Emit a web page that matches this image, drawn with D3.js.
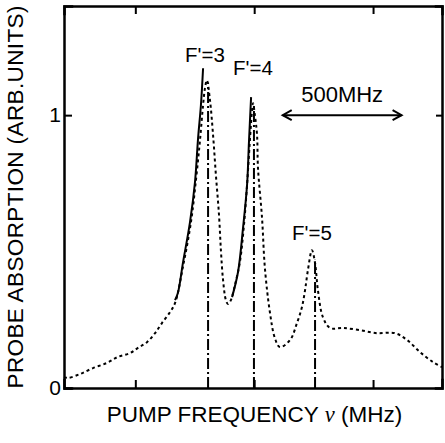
<!DOCTYPE html>
<html>
<head>
<meta charset="utf-8">
<script src="https://cdn.jsdelivr.net/npm/d3@7"></script>
<style>
  body { margin: 0; background: #fff; }
  text { font-family: "Liberation Sans", Arial, sans-serif; fill: #000; }
</style>
</head>
<body>
<script>
// pump frequency (MHz, relative) and probe absorption (arb. units)
var dotFreq = [0, 17, 67, 122, 181, 227, 278, 311, 349, 383, 412, 446, 467, 501, 534, 555, 572, 585, 593, 601,
  614, 627, 639, 652, 660, 669, 681, 690, 702, 719, 740, 757, 770, 782, 791, 795, 803, 812, 816, 833, 845,
  866, 887, 908, 951, 980, 1001, 1014, 1026, 1043, 1056, 1068, 1089, 1119, 1173, 1245, 1316, 1392, 1443,
  1497, 1552, 1590];
var dotAbs = [0.040, 0.037, 0.051, 0.073, 0.092, 0.114, 0.128, 0.147, 0.168, 0.201, 0.238, 0.278, 0.311,
  0.447, 0.608, 0.762, 0.908, 1.037, 1.099, 1.128, 1.055, 0.927, 0.780, 0.634, 0.505, 0.396, 0.322, 0.308,
  0.322, 0.377, 0.462, 0.597, 0.744, 0.908, 1.018, 1.044, 1.000, 0.927, 0.806, 0.623, 0.440, 0.278, 0.183,
  0.150, 0.176, 0.238, 0.297, 0.359, 0.432, 0.505, 0.458, 0.359, 0.260, 0.220, 0.220, 0.212, 0.201, 0.201,
  0.176, 0.132, 0.095, 0.077];

var solid3Freq = [467, 479, 501, 530, 551, 564, 576, 585];
var solid3Abs = [0.322, 0.348, 0.462, 0.608, 0.755, 0.916, 1.037, 1.172];
var solid4Freq = [707, 732, 753, 770, 778, 787];
var solid4Abs = [0.333, 0.425, 0.586, 0.744, 0.901, 1.066];

var lineNames = ["F'=3", "F'=4", "F'=5"];
var lineFreq = [606, 799, 1056];
var lineTop = [1.12, 1.04, 0.47];
var labelFreq = [509, 711, 959];
var labelAbs = [1.194, 1.147, 0.542];

var xTicks = [300, 800, 1300];
var yTicks = [0, 1];
var arrowFreq = [920, 1420];

var margin = {top: 6, right: 3, bottom: 55, left: 64},
    width = 445 - margin.left - margin.right,
    height = 443 - margin.top - margin.bottom;

var svg = d3.select("body").append("svg")
    .attr("width", 445)
    .attr("height", 443)
  .append("g")
    .attr("transform", "translate(" + margin.left + "," + margin.top + ")");

var xScale = d3.scaleLinear().domain([0, 1590]).range([0, width]);
var yScale = d3.scaleLinear().domain([0, 1.4]).range([height, 0]);

var line = d3.line()
    .x(function(d){ return xScale(d[0]); })
    .y(function(d){ return yScale(d[1]); })
    .curve(d3.curveCatmullRom);

var dotted = d3.zip(dotFreq, dotAbs);
svg.append("path")
    .datum(dotted)
    .attr("d", line)
    .attr("fill", "none")
    .attr("stroke", "#000")
    .attr("stroke-width", 2)
    .attr("stroke-dasharray", "3,3");

[d3.zip(solid3Freq, solid3Abs), d3.zip(solid4Freq, solid4Abs)].forEach(function(seg){
  svg.append("path")
      .datum(seg)
      .attr("d", line)
      .attr("fill", "none")
      .attr("stroke", "#000")
      .attr("stroke-width", 2);
});

// dash-dot markers of the hyperfine lines
svg.selectAll(".marker")
    .data(lineFreq)
    .enter().append("line")
    .attr("class", "marker")
    .attr("x1", function(d){ return xScale(d); })
    .attr("x2", function(d){ return xScale(d); })
    .attr("y1", yScale(0))
    .attr("y2", function(d, i){ return yScale(lineTop[i]); })
    .attr("stroke", "#000")
    .attr("stroke-width", 2)
    .attr("stroke-dasharray", "11,3,2,3");

svg.selectAll(".lbl")
    .data(lineNames)
    .enter().append("text")
    .attr("class", "lbl")
    .attr("x", function(d, i){ return xScale(labelFreq[i]); })
    .attr("y", function(d, i){ return yScale(labelAbs[i]); })
    .style("font-size", "20.5px")
    .text(function(d){ return d; });

// 500 MHz scale arrow
var ay = yScale(1);
svg.append("line")
    .attr("x1", xScale(arrowFreq[0])).attr("x2", xScale(arrowFreq[1]))
    .attr("y1", ay).attr("y2", ay)
    .attr("stroke", "#000").attr("stroke-width", 2);
[[arrowFreq[0], 1], [arrowFreq[1], -1]].forEach(function(a){
  var x = xScale(a[0]);
  svg.append("path")
      .attr("d", "M" + (x + a[1]*9) + "," + (ay - 5) + "L" + x + "," + ay + "L" + (x + a[1]*9) + "," + (ay + 5))
      .attr("fill", "none").attr("stroke", "#000").attr("stroke-width", 2);
});
svg.append("text")
    .attr("x", xScale((arrowFreq[0] + arrowFreq[1]) / 2))
    .attr("y", yScale(1.048))
    .attr("text-anchor", "middle")
    .style("font-size", "22px")
    .text("500MHz");

// axes, ticks pointing inward
var xAxisB = d3.axisBottom(xScale).tickValues(xTicks).tickSize(-8).tickFormat("");
var xAxisT = d3.axisTop(xScale).tickValues(xTicks).tickSize(-8).tickFormat("");
var yAxisL = d3.axisLeft(yScale).tickValues(yTicks).tickSize(-8).tickPadding(3).tickFormat(d3.format("d"));
var yAxisR = d3.axisRight(yScale).tickValues([1]).tickSize(-6).tickFormat("");

function styleAxis(g){
  g.select(".domain").attr("stroke-width", 2.5);
  g.selectAll(".tick line").attr("stroke-width", 2);
  g.selectAll(".tick text").style("font-size", "21px").style("font-family", "Liberation Sans, Arial, sans-serif");
}

svg.append("g").attr("transform", "translate(0," + height + ")").call(xAxisB).call(styleAxis);
svg.append("g").call(xAxisT).call(styleAxis);
svg.append("g").call(yAxisL).call(styleAxis);
svg.append("g").attr("transform", "translate(" + width + ",0)").call(yAxisR).call(styleAxis);
svg.selectAll(".domain").attr("stroke-linecap", "square");

svg.append("text")
    .attr("transform", "translate(-41," + (197 - margin.top) + ") rotate(-90)")
    .attr("text-anchor", "middle")
    .attr("textLength", 383)
    .style("font-size", "22.5px")
    .text("PROBE ABSORPTION (ARB.UNITS)");

var xl = svg.append("text")
    .attr("x", (102 + 407) / 2 - margin.left)
    .attr("y", 422 - margin.top)
    .attr("text-anchor", "middle")
    .style("font-size", "22.5px");
xl.append("tspan").text("PUMP FREQUENCY  ");
xl.append("tspan").style("font-family", "Liberation Serif, serif").style("font-style", "italic").text("ν");
xl.append("tspan").text(" (MHz)");
</script>
</body>
</html>
